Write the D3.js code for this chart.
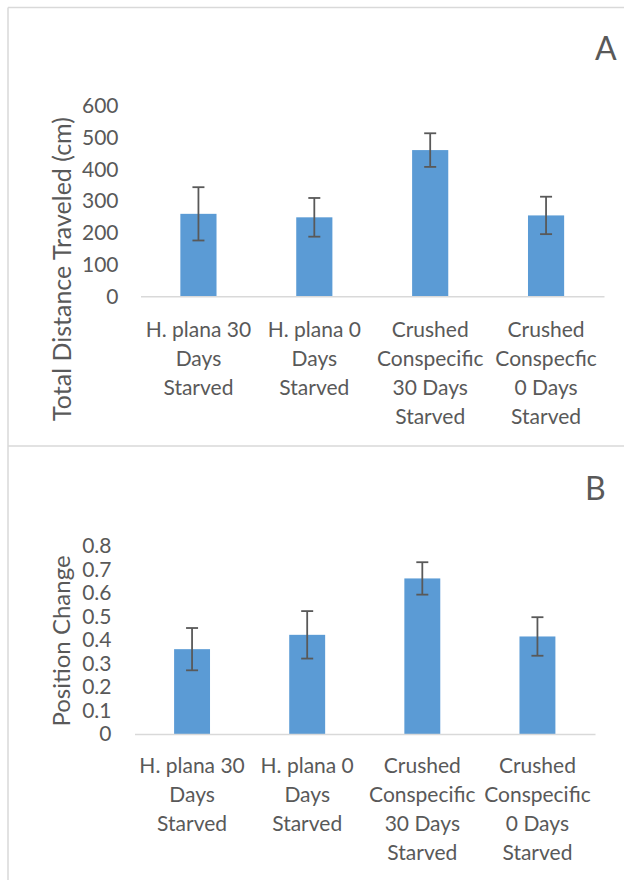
<!DOCTYPE html>
<html>
<head>
<meta charset="utf-8">
<script src="https://cdn.jsdelivr.net/npm/d3@7"></script>
<style>
  html, body { margin: 0; padding: 0; background: #fff; }
  svg { display: block; font-family: Lato, "Open Sans", sans-serif; }
</style>
</head>
<body>
<svg id="chart" width="624" height="880"></svg>
<script>
// Category labels, one entry per line of the label
const categoriesA = [
  ["H. plana 30", "Days", "Starved"],
  ["H. plana 0", "Days", "Starved"],
  ["Crushed", "Conspecific", "30 Days", "Starved"],
  ["Crushed", "Conspecfic", "0 Days", "Starved"]
];
const categoriesB = [
  ["H. plana 30", "Days", "Starved"],
  ["H. plana 0", "Days", "Starved"],
  ["Crushed", "Conspecific", "30 Days", "Starved"],
  ["Crushed", "Conspecific", "0 Days", "Starved"]
];

// Panel A: total distance traveled (cm), mean and error
const distanceMeans = [260, 249, 461, 255];
const distanceErrors = [84, 61, 53, 59];
const distanceTicks = [0, 100, 200, 300, 400, 500, 600];

// Panel B: position change, mean and error
const positionMeans = [0.361, 0.422, 0.662, 0.415];
const positionErrors = [0.090, 0.101, 0.069, 0.082];
const positionTicks = [0, 0.1, 0.2, 0.3, 0.4, 0.5, 0.6, 0.7, 0.8];

const TEXT = "#595959";
const GRID = "#d9d9d9";
const BAR = "#5b9bd5";

const svg = d3.select("#chart");

// Panel frames
const frame = svg.append("g")
  .attr("fill", "none")
  .attr("stroke", GRID)
  .attr("stroke-width", 1.5);
frame.append("line").attr("x1", 8).attr("x2", 624).attr("y1", 7.5).attr("y2", 7.5);
frame.append("line").attr("x1", 8).attr("x2", 624).attr("y1", 446).attr("y2", 446);
frame.append("line").attr("x1", 8).attr("x2", 8).attr("y1", 7.5).attr("y2", 880);

function drawPanel(p) {
  const keys = p.categories.map(c => c.join(" "));
  const g = svg.append("g");

  const x = d3.scaleBand()
    .domain(keys)
    .range([p.left, p.right])
    .paddingInner(0.688)
    .paddingOuter(0.344);

  const y = d3.scaleLinear()
    .domain([p.ticks[0], p.ticks[p.ticks.length - 1]])
    .range([p.bottom, p.top]);

  // value axis: labels only
  const yAxis = g.append("g")
    .attr("transform", `translate(${p.left},0)`)
    .call(d3.axisLeft(y).tickValues(p.ticks).tickSize(0).tickPadding(p.tickPad).tickFormat(p.format));
  yAxis.select(".domain").remove();
  yAxis.selectAll("text")
    .attr("fill", TEXT)
    .style("font-size", "21px")
    .style("font-family", "Lato, sans-serif");

  // bars
  g.append("g").selectAll("rect")
    .data(p.means)
    .join("rect")
    .attr("x", (d, i) => x(keys[i]))
    .attr("width", x.bandwidth())
    .attr("y", d => y(d))
    .attr("height", d => y(0) - y(d))
    .attr("fill", BAR);

  // category axis with multi-line labels
  const xAxis = g.append("g")
    .attr("transform", `translate(0,${p.bottom})`)
    .call(d3.axisBottom(x).tickSize(0).tickPadding(0));
  xAxis.select(".domain")
    .attr("stroke", GRID)
    .attr("stroke-width", 1.5);
  xAxis.selectAll(".tick text").each(function (d, i) {
    const t = d3.select(this)
      .text(null)
      .attr("y", p.labelOffset)
      .attr("dy", null)
      .attr("fill", TEXT)
      .style("font-size", "21px")
      .style("font-family", "Lato, sans-serif");
    p.categories[i].forEach((line, j) => {
      t.append("tspan").attr("x", 0).attr("y", p.labelOffset + j * 29).text(line);
    });
  });

  // error bars
  const cap = 6;
  const err = g.append("g")
    .attr("stroke", TEXT)
    .attr("stroke-width", 1.8)
    .attr("fill", "none");
  p.means.forEach((m, i) => {
    const cx = x(keys[i]) + x.bandwidth() / 2;
    const hi = y(m + p.errors[i]);
    const lo = y(m - p.errors[i]);
    err.append("line").attr("x1", cx).attr("x2", cx).attr("y1", hi).attr("y2", lo);
    err.append("line").attr("x1", cx - cap).attr("x2", cx + cap).attr("y1", hi).attr("y2", hi);
    err.append("line").attr("x1", cx - cap).attr("x2", cx + cap).attr("y1", lo).attr("y2", lo);
  });

  // axis title
  g.append("text")
    .attr("transform", `translate(${p.titleX},${p.titleY}) rotate(-90)`)
    .attr("text-anchor", "middle")
    .attr("dominant-baseline", "central")
    .attr("fill", TEXT)
    .style("font-size", p.titleSize + "px")
    .text(p.title);

  // panel letter
  g.append("text")
    .attr("x", p.letterX)
    .attr("y", p.letterY)
    .attr("fill", TEXT)
    .style("font-size", "32px")
    .text(p.letter);
}

drawPanel({
  categories: categoriesA, means: distanceMeans, errors: distanceErrors, ticks: distanceTicks,
  format: d3.format("d"),
  top: 106, bottom: 296.3, left: 140.5, right: 604, tickPad: 22, labelOffset: 41,
  title: "Total Distance Traveled (cm)", titleSize: 25, titleX: 61, titleY: 269,
  letter: "A", letterX: 595, letterY: 60
});

drawPanel({
  categories: categoriesB, means: positionMeans, errors: positionErrors, ticks: positionTicks,
  format: d => d === 0 ? "0" : d3.format(".1f")(d),
  top: 546, bottom: 734, left: 134.5, right: 595, tickPad: 23, labelOffset: 39.3,
  title: "Position Change", titleSize: 24, titleX: 60, titleY: 641,
  letter: "B", letterX: 585, letterY: 500
});
</script>
</body>
</html>
